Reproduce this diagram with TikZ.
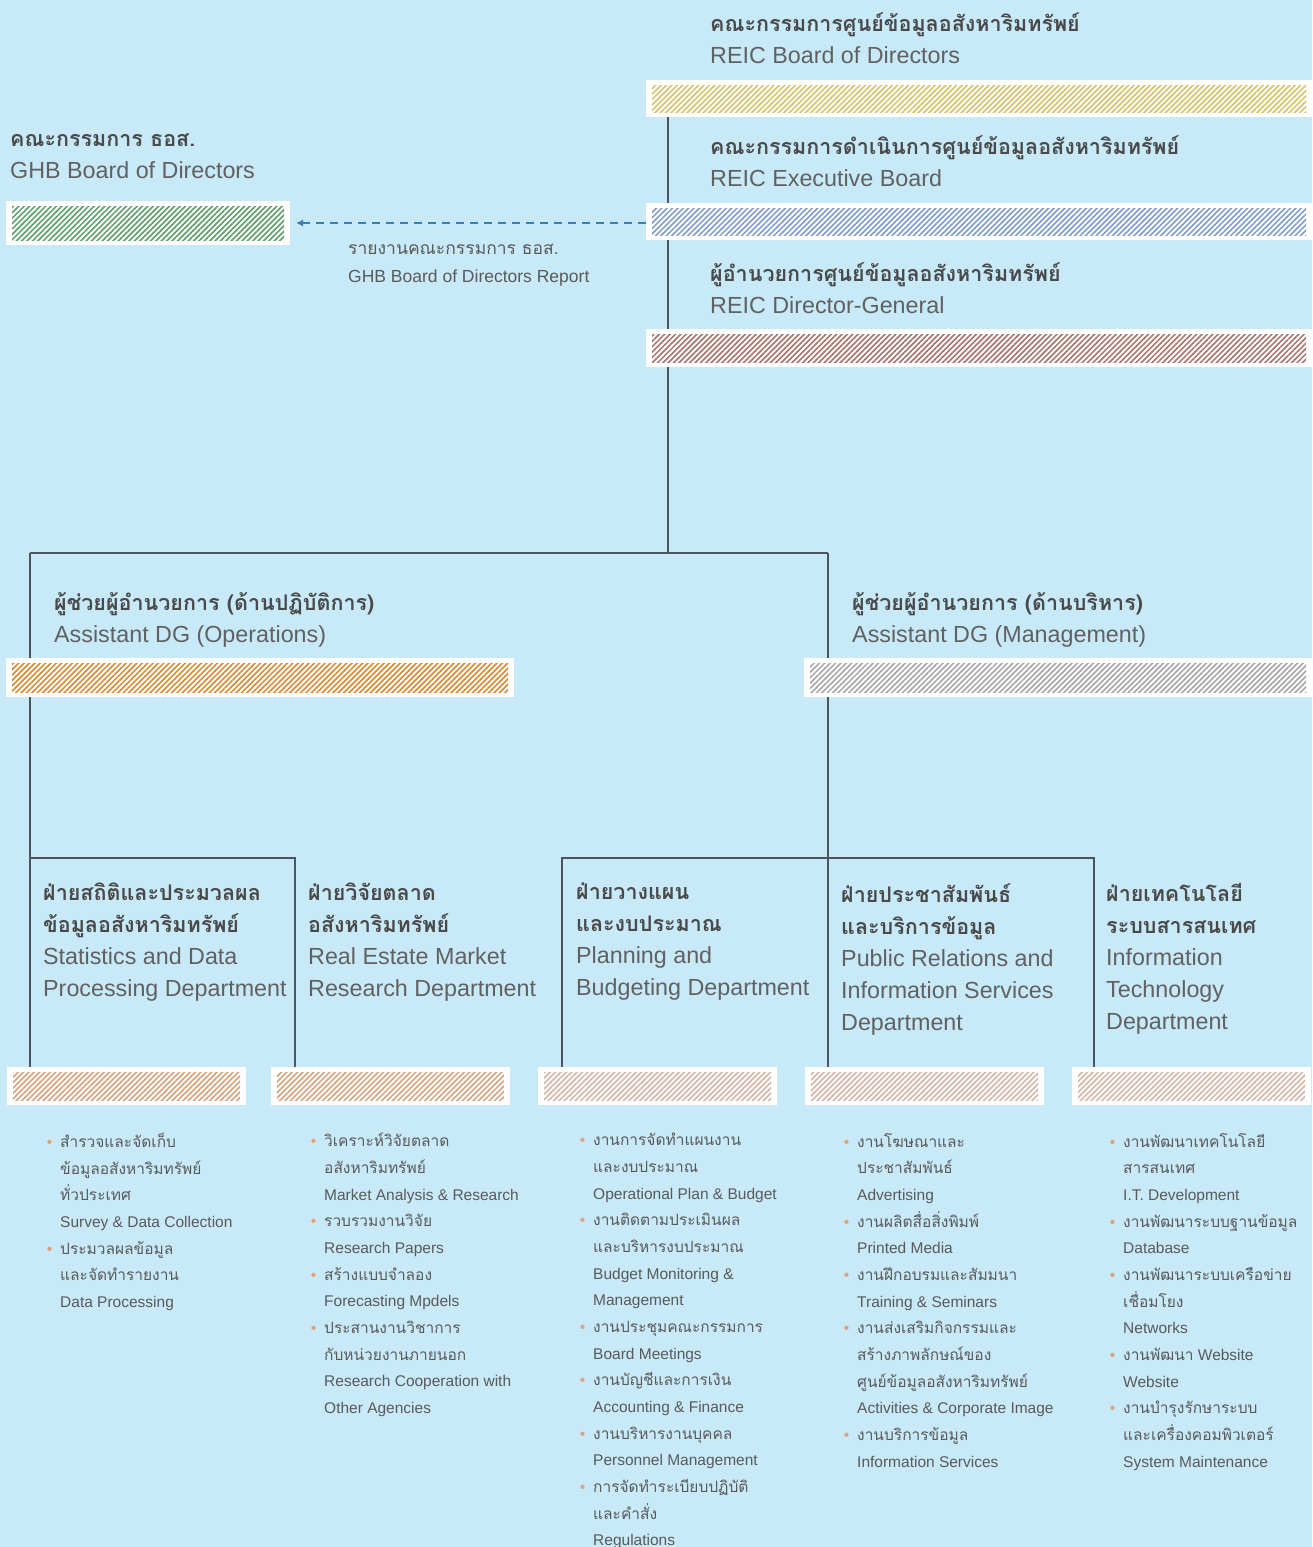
\documentclass[tikz,border=0pt]{standalone}
\usepackage{fontspec}
\setmainfont{Liberation Sans}
\newfontfamily\thai[Script=Thai]{Loma}
\usetikzlibrary{patterns.meta,arrows.meta}
\definecolor{bg}{HTML}{C7E9F8}
\definecolor{linec}{HTML}{4A5560}
\definecolor{thc}{HTML}{4A4A4A}
\definecolor{engc}{HTML}{616161}
\definecolor{txtc}{HTML}{5A5A5A}
\definecolor{dotc}{HTML}{DDA178}
\definecolor{arrc}{HTML}{3B7FAE}
\definecolor{hyel}{HTML}{D6C066}
\definecolor{hblu}{HTML}{7A9ACA}
\definecolor{hred}{HTML}{A6706A}
\definecolor{hgrn}{HTML}{5A9C66}
\definecolor{hora}{HTML}{D6862F}
\definecolor{hgry}{HTML}{A4A4A4}
\definecolor{htan}{HTML}{D6A078}
\definecolor{hpnk}{HTML}{D4B2A6}
\newcommand\tb[1]{{\thai\bfseries\fontsize{21.5}{32}\selectfont\color{thc}#1}}
\newcommand\thr[1]{{\thai #1}}
\newcommand\bul{\llap{{\color{dotc}\textbullet}\hspace{8pt}}}
\newcommand\hatchbar[6]{%
  \node[barbox, minimum width={#4-#2}, minimum height={#5-#3}] (#1) at ({(#2+#4)/2},{(#3+#5)/2}) {};
  \fill[pattern={Lines[angle=45,distance=3.8pt,line width=1.55pt]}, pattern color=#6]
    ([shift={(6,5)}]#1.north west) rectangle ([shift={(-6,-5)}]#1.south east);
}
\begin{document}
\begin{tikzpicture}[x=1pt,y=-1pt,
  conn/.style={draw=linec, line width=1.5pt},
  barbox/.style={fill=white, inner sep=0pt, outer sep=0pt, draw=none},
  hd/.style={anchor=north west, inner sep=0pt, align=left, font=\fontsize{23.3}{32}\selectfont, text=engc},
  lbl/.style={anchor=north west, inner sep=0pt, align=left, font=\fontsize{17.5}{28}\selectfont, text=txtc},
  items/.style={anchor=north west, inner sep=0pt, align=left, font=\fontsize{15.5}{26.67}\selectfont, text=txtc},
  rep/.style={draw=arrc, line width=1.8pt, dash pattern=on 8pt off 6pt, -{Latex[length=7pt,width=7pt]}}
]
\fill[bg] (0,0) rectangle (1312,1547);
\useasboundingbox (0,0) rectangle (1312,1547);

% junction coordinates
\coordinate (jT) at (668,553);
\coordinate (jL) at (30,553);
\coordinate (jR) at (828,553);
\coordinate (kL) at (30,858);
\coordinate (k2) at (295,858);
\coordinate (k3) at (562,858);
\coordinate (k5) at (1094,858);

% placeholder bars for naming (drawn after connectors)
\begin{scope}[opacity=0]
\node[barbox, minimum width=666, minimum height=37] (rb) at (979,98.5) {};
\node[barbox, minimum width=239, minimum height=38] (d1) at (126.5,1086) {};
\node[barbox, minimum width=239, minimum height=38] (d2) at (390.5,1086) {};
\node[barbox, minimum width=239, minimum height=38] (d3) at (657.5,1086) {};
\node[barbox, minimum width=239, minimum height=38] (d4) at (924.5,1086) {};
\node[barbox, minimum width=239, minimum height=38] (d5) at (1191.5,1086) {};
\end{scope}

% connectors
\draw[conn] (rb.south -| jT) -- (jT);
\draw[conn] (jL) -- (jR);
\draw[conn] (jL) -- (d1.north -| jL);
\draw[conn] (jR) -- (d4.north -| jR);
\draw[conn] (kL) -- (k2) -- (d2.north -| k2);
\draw[conn] (d3.north -| k3) -- (k3) -- (k5) -- (d5.north -| k5);

% bars
\hatchbar{rb}{646}{80}{1312}{117}{hyel}
\hatchbar{eb}{646}{203}{1312}{240}{hblu}
\hatchbar{db}{646}{329}{1312}{367}{hred}
\hatchbar{gb}{6}{201}{290}{245}{hgrn}
\hatchbar{ob}{6}{658}{514}{697}{hora}
\hatchbar{mb}{804}{658}{1312}{697}{hgry}
\hatchbar{d1}{7}{1067}{246}{1105}{htan}
\hatchbar{d2}{271}{1067}{510}{1105}{htan}
\hatchbar{d3}{538}{1067}{777}{1105}{hpnk}
\hatchbar{d4}{805}{1067}{1044}{1105}{hpnk}
\hatchbar{d5}{1072}{1067}{1311}{1105}{hpnk}

% report arrow
\draw[rep, shorten >=6pt] (eb.west |- gb.east) -- (gb.east);

% headers
\node[hd] (h1) at (710,12) {\tb{คณะกรรมการศูนย์ข้อมูลอสังหาริมทรัพย์}\\REIC Board of Directors};
\node[hd] (h2) at (710,135) {\tb{คณะกรรมการดำเนินการศูนย์ข้อมูลอสังหาริมทรัพย์}\\REIC Executive Board};
\node[hd] (h3) at (710,262) {\tb{ผู้อำนวยการศูนย์ข้อมูลอสังหาริมทรัพย์}\\REIC Director-General};
\node[hd] (hg) at (10,134) {\tb{คณะกรรมการ ธอส.}\\GHB Board of Directors};
\node[lbl] (lr) at (348,244) {\thr{รายงานคณะกรรมการ ธอส.}\\GHB Board of Directors Report};
\node[hd] (ha1) at (54,592) {\tb{ผู้ช่วยผู้อำนวยการ (ด้านปฏิบัติการ)}\\Assistant DG (Operations)};
\node[hd] (ha2) at (852,592) {\tb{ผู้ช่วยผู้อำนวยการ (ด้านบริหาร)}\\Assistant DG (Management)};

\node[hd] (t1) at (43,883) {\tb{ฝ่ายสถิติและประมวลผล}\\\tb{ข้อมูลอสังหาริมทรัพย์}\\Statistics and Data\\Processing Department};
\node[hd] (t2) at (308,883) {\tb{ฝ่ายวิจัยตลาด}\\\tb{อสังหาริมทรัพย์}\\Real Estate Market\\Research Department};
\node[hd] (t3) at (576,883) {\tb{ฝ่ายวางแผน}\\\tb{และงบประมาณ}\\Planning and\\Budgeting Department};
\node[hd] (t4) at (841,883) {\tb{ฝ่ายประชาสัมพันธ์}\\\tb{และบริการข้อมูล}\\Public Relations and\\Information Services\\Department};
\node[hd] (t5) at (1106,883) {\tb{ฝ่ายเทคโนโลยี}\\\tb{ระบบสารสนเทศ}\\Information\\Technology\\Department};

% task lists
\node[items] (l1) at (60,1133) {\bul\thr{สำรวจและจัดเก็บ}\\\thr{ข้อมูลอสังหาริมทรัพย์}\\\thr{ทั่วประเทศ}\\Survey \& Data Collection\\
\bul\thr{ประมวลผลข้อมูล}\\\thr{และจัดทำรายงาน}\\Data Processing};
\node[items] (l2) at (324,1133) {\bul\thr{วิเคราะห์วิจัยตลาด}\\\thr{อสังหาริมทรัพย์}\\Market Analysis \& Research\\
\bul\thr{รวบรวมงานวิจัย}\\Research Papers\\
\bul\thr{สร้างแบบจำลอง}\\Forecasting Mpdels\\
\bul\thr{ประสานงานวิชาการ}\\\thr{กับหน่วยงานภายนอก}\\Research Cooperation with\\Other Agencies};
\node[items] (l3) at (593,1133) {\bul\thr{งานการจัดทำแผนงาน}\\\thr{และงบประมาณ}\\Operational Plan \& Budget\\
\bul\thr{งานติดตามประเมินผล}\\\thr{และบริหารงบประมาณ}\\Budget Monitoring \&\\Management\\
\bul\thr{งานประชุมคณะกรรมการ}\\Board Meetings\\
\bul\thr{งานบัญชีและการเงิน}\\Accounting \& Finance\\
\bul\thr{งานบริหารงานบุคคล}\\Personnel Management\\
\bul\thr{การจัดทำระเบียบปฏิบัติ}\\\thr{และคำสั่ง}\\Regulations};
\node[items] (l4) at (857,1133) {\bul\thr{งานโฆษณาและ}\\\thr{ประชาสัมพันธ์}\\Advertising\\
\bul\thr{งานผลิตสื่อสิ่งพิมพ์}\\Printed Media\\
\bul\thr{งานฝึกอบรมและสัมมนา}\\Training \& Seminars\\
\bul\thr{งานส่งเสริมกิจกรรมและ}\\\thr{สร้างภาพลักษณ์ของ}\\\thr{ศูนย์ข้อมูลอสังหาริมทรัพย์}\\Activities \& Corporate Image\\
\bul\thr{งานบริการข้อมูล}\\Information Services};
\node[items] (l5) at (1123,1133) {\bul\thr{งานพัฒนาเทคโนโลยี}\\\thr{สารสนเทศ}\\I.T. Development\\
\bul\thr{งานพัฒนาระบบฐานข้อมูล}\\Database\\
\bul\thr{งานพัฒนาระบบเครือข่าย}\\\thr{เชื่อมโยง}\\Networks\\
\bul\thr{งานพัฒนา} Website\\Website\\
\bul\thr{งานบำรุงรักษาระบบ}\\\thr{และเครื่องคอมพิวเตอร์}\\System Maintenance};
\end{tikzpicture}
\end{document}
